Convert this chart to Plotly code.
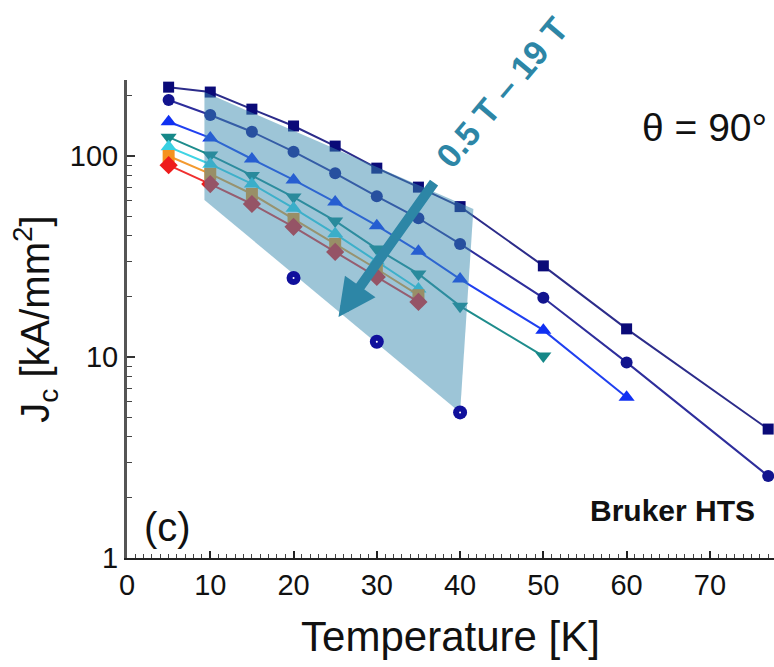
import math
import plotly.graph_objects as go

# ---- data ----
T_long = [5, 10, 15, 20, 25, 30, 35, 40, 50, 60, 77]
jc_square = [220, 208, 171, 141, 112, 87, 70, 56, 28.4, 13.8, 4.38]
jc_circle = [190, 160, 132, 105, 82, 63, 49, 36.5, 19.7, 9.4, 2.56]
T_up = [5, 10, 15, 20, 25, 30, 35, 40, 50, 60]
jc_up = [148, 123, 96.6, 76, 59, 45, 33.6, 24.4, 13.6, 6.3]
T_down = [5, 10, 15, 20, 25, 30, 35, 40, 50]
jc_down = [124, 101, 80, 62.5, 47.5, 34.5, 25.9, 17.9, 10.1]
T_short = [5, 10, 15, 20, 25, 30, 35]
jc_cyan = [111, 91, 72.6, 55, 41, 30, 21.8]
jc_orange = [100, 81.4, 64.7, 48.6, 36.5, 27.4, 20.3]
jc_red = [90, 72.5, 57.7, 44.4, 33.3, 25, 18.8]
T_iso = [20, 30, 40]
jc_iso = [24.7, 11.9, 5.3]

# shaded field-range region (T, Jc)
shade_T = [9.3, 41.6, 40.0, 9.3]
shade_jc = [208, 54.5, 5.3, 60.4]

# arrow (tail -> head), in T / Jc
arrow_tail = (37.0, 75.0)
arrow_head = (25.4, 15.8)

FONT = "Liberation Sans, Arial, sans-serif"

series = [
    (T_long, jc_square, "square", "#0a0a78", "#2c2c8a", 11),
    (T_long, jc_circle, "circle", "#12148e", "#2e2e9c", 12),
    (T_up, jc_up, "triangle-up", "#1030f2", "#2040f0", 14),
    (T_down, jc_down, "triangle-down", "#168888", "#1e8c8c", 14),
    (T_short, jc_cyan, "triangle-up", "#38d0e2", "#40d4e4", 14),
    (T_short, jc_orange, "square", "#f5921e", "#f39a30", 12),
    (T_short, jc_red, "diamond", "#ee1c1c", "#f03030", 14),
]

fig = go.Figure()
for xs, ys, sym, mc, lc, sz in series:
    fig.add_trace(go.Scatter(
        x=xs, y=ys, mode="lines+markers",
        line=dict(color=lc, width=2),
        marker=dict(symbol=sym, size=sz, color=mc, line=dict(width=0)),
        showlegend=False, hoverinfo="skip", cliponaxis=False))

# shaded polygon on top of the lines
fig.add_trace(go.Scatter(
    x=shade_T, y=shade_jc, mode="lines", fill="toself",
    fillcolor="rgba(60,140,175,0.5)", line=dict(width=0),
    showlegend=False, hoverinfo="skip"))

# isolated points
fig.add_trace(go.Scatter(
    x=T_iso, y=jc_iso, mode="markers",
    marker=dict(symbol="circle", size=14, color="#10109c", line=dict(width=0)),
    showlegend=False, hoverinfo="skip"))
fig.add_trace(go.Scatter(
    x=T_iso, y=jc_iso, mode="markers",
    marker=dict(symbol="circle", size=2, color="white", line=dict(width=0)),
    showlegend=False, hoverinfo="skip"))

ARROW_C = "#2d86a6"
fig.add_annotation(
    x=arrow_head[0], y=math.log10(arrow_head[1]), xref="x", yref="y",
    ax=arrow_tail[0], ay=math.log10(arrow_tail[1]), axref="x", ayref="y",
    text="", showarrow=True, arrowhead=2, arrowsize=0.75, arrowwidth=10,
    arrowcolor=ARROW_C, standoff=0, startstandoff=0)

fig.add_annotation(
    x=0.58, y=0.975, xref="paper", yref="paper", text="<b>0.5 T – 19 T</b>",
    showarrow=False, textangle=-50, font=dict(family=FONT, size=34, color=ARROW_C),
    xanchor="center", yanchor="middle")

fig.add_annotation(
    x=0.793, y=0.90, xref="paper", yref="paper", text="θ = 90°",
    showarrow=False, font=dict(family=FONT, size=39, color="#111"),
    xanchor="left", yanchor="middle")

fig.add_annotation(
    x=0.973, y=0.10, xref="paper", yref="paper", text="<b>Bruker HTS</b>",
    showarrow=False, font=dict(family=FONT, size=30, color="#111"),
    xanchor="right", yanchor="middle")

fig.add_annotation(
    x=0.063, y=0.065, xref="paper", yref="paper", text="(c)",
    showarrow=False, font=dict(family=FONT, size=40, color="#111"),
    xanchor="center", yanchor="middle")

fig.update_layout(
    width=774, height=667,
    margin=dict(l=127, r=0, t=80, b=109, autoexpand=False),
    paper_bgcolor="white", plot_bgcolor="white",
    font=dict(family=FONT, color="#111"),
    showlegend=False,
)
fig.update_xaxes(
    automargin=False,
    range=[0, 77.7], tickmode="linear", tick0=0, dtick=10,
    ticks="inside", ticklen=7, tickwidth=1.5, tickcolor="#222",
    showline=True, linecolor="#222", linewidth=2, showgrid=False, zeroline=False,
    minor=dict(dtick=1, ticks="inside", ticklen=4, tickcolor="#444", tickwidth=1, showgrid=False),
    tickfont=dict(family=FONT, size=29, color="#111"),
    title=dict(text="Temperature [K]", font=dict(family=FONT, size=42, color="#111"), standoff=22),
)
fig.update_yaxes(
    automargin=False,
    type="log", range=[0, 2.378], tickmode="linear", tick0=0, dtick=1,
    ticks="inside", ticklen=8, tickwidth=1.5, tickcolor="#333",
    showline=True, linecolor="#555", linewidth=3, showgrid=False, zeroline=False,
    minor=dict(dtick="D1", ticks="inside", ticklen=5, tickcolor="#444", tickwidth=1, showgrid=False),
    tickfont=dict(family=FONT, size=29, color="#111"),
    title=dict(text="J<sub>c</sub> [kA/mm<sup>2</sup>]", font=dict(family=FONT, size=40, color="#111"), standoff=8),
)

fig.write_html("out.html", config={"displayModeBar": False},
               post_script="document.body.style.margin='0';")
